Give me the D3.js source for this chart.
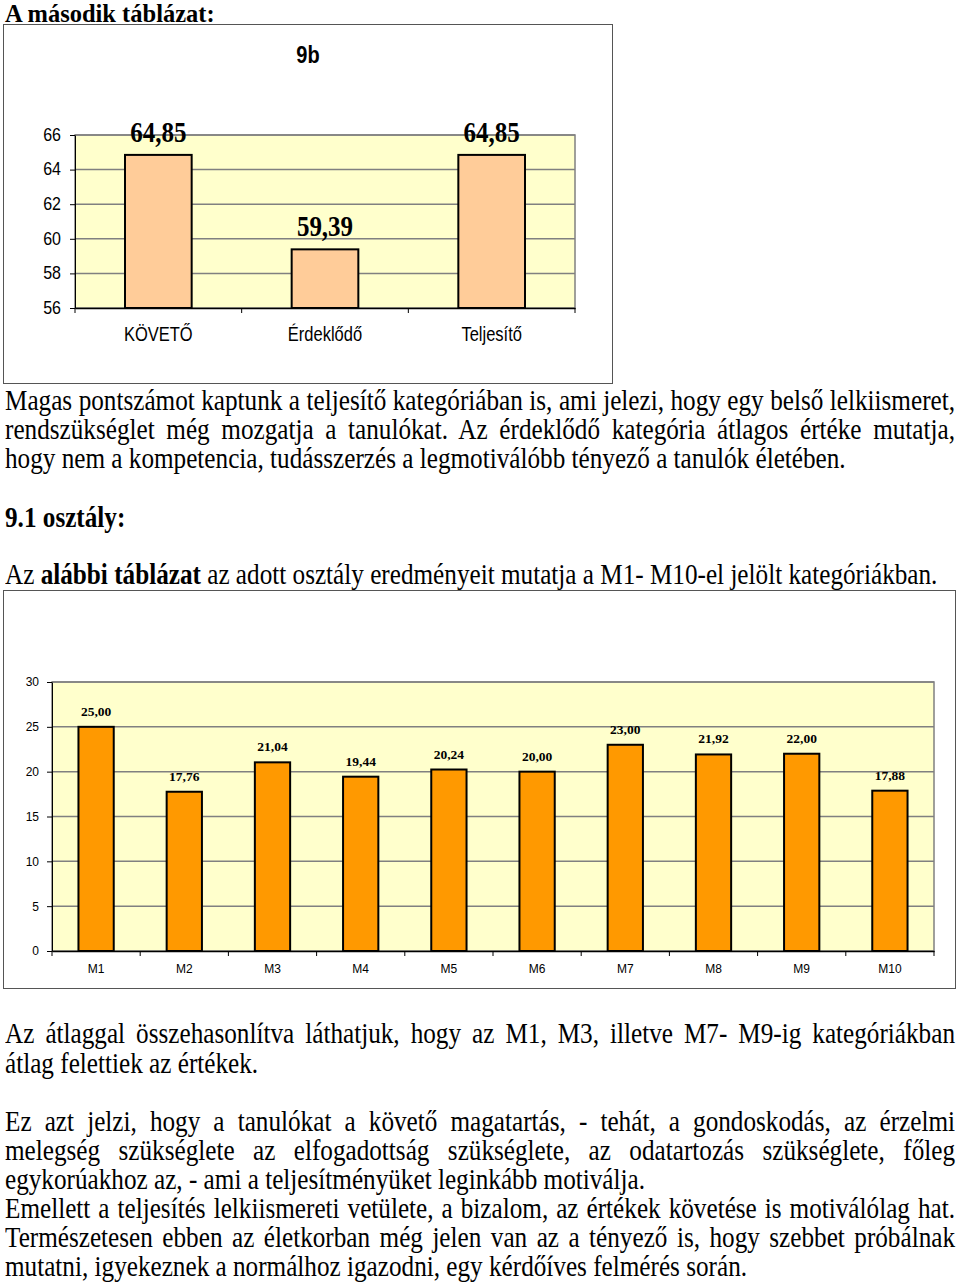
<!DOCTYPE html>
<html>
<head>
<meta charset="utf-8">
<script src="https://cdn.jsdelivr.net/npm/d3@7"></script>
<style>
  body { margin: 0; background: #fff; }
  #page { position: relative; width: 960px; height: 1283px; overflow: hidden; }
  svg { position: absolute; left: 0; top: 0; }
  .ln { position: absolute; left: 5px; width: 950px; height: 23px; line-height: 23px;
        font-family: "Liberation Serif", "Times New Roman", serif; font-size: 25.2px; color: #000;
        white-space: nowrap; transform: scaleY(1.19); transform-origin: 50% 50%; }
  .just { text-align: justify; text-align-last: justify; white-space: normal; }
</style>
</head>
<body>
<div id="page"></div>
<script>
// first chart (9b)
const topCats = ["KÖVETŐ", "Érdeklődő", "Teljesítő"];
const topVals = [64.85, 59.39, 64.85];
const topTicks = [56, 58, 60, 62, 64, 66];

// second chart (9.1 osztály)
const mCats = ["M1", "M2", "M3", "M4", "M5", "M6", "M7", "M8", "M9", "M10"];
const mVals = [25.00, 17.76, 21.04, 19.44, 20.24, 20.00, 23.00, 21.92, 22.00, 17.88];
const mTicks = [0, 5, 10, 15, 20, 25, 30];

// text lines: [text, top, justified]
const textLines = [
  ["Magas pontszámot kaptunk a teljesítő kategóriában is, ami jelezi, hogy egy belső lelkiismeret,", 388, true],
  ["rendszükséglet még mozgatja a tanulókat. Az érdeklődő kategória átlagos értéke mutatja,", 417, true],
  ["hogy nem a kompetencia, tudásszerzés a legmotiválóbb tényező a tanulók életében.", 446, false],
  ["<b>9.1 osztály:</b>", 505, false],
  ["Az <b>alábbi táblázat</b> az adott osztály eredményeit mutatja a M1- M10-el jelölt kategóriákban.", 562, false],
  ["Az átlaggal összehasonlítva láthatjuk, hogy az M1, M3, illetve M7- M9-ig kategóriákban", 1021, true],
  ["átlag felettiek az értékek.", 1051, false],
  ["Ez azt jelzi, hogy a tanulókat a követő magatartás, - tehát, a gondoskodás, az érzelmi", 1109, true],
  ["melegség szükséglete az elfogadottság szükséglete, az odatartozás szükséglete, főleg", 1138, true],
  ["egykorúakhoz az, - ami a teljesítményüket leginkább motiválja.", 1167, false],
  ["Emellett a teljesítés lelkiismereti vetülete, a bizalom, az értékek követése is motiválólag hat.", 1196, true],
  ["Természetesen ebben az életkorban még jelen van az a tényező is, hogy szebbet próbálnak", 1225, true],
  ["mutatni, igyekeznek a normálhoz igazodni, egy kérdőíves felmérés során.", 1254, false]
];

const SY = 1.19; // the source picture is stretched vertically
const serif = "Liberation Serif, Times New Roman, serif";
const sans = "Liberation Sans, Arial, sans-serif";

const page = d3.select("#page");
const fmt = (v) => v.toFixed(2).replace(".", ",");

page.selectAll("div.ln")
  .data(textLines)
  .join("div")
  .attr("class", (d) => (d[2] ? "ln just" : "ln"))
  .style("top", (d) => d[1] + "px")
  .html((d) => d[0]);

const svg = page.append("svg").attr("width", 960).attr("height", 1283);

// text placed at x,y and stretched vertically around its baseline
const stretch = (x, y, s = SY) => `translate(${x},${y}) scale(1,${s})`;

// heading
svg.append("text")
  .attr("transform", stretch(5, 21.5, 1))
  .attr("font-family", serif)
  .attr("font-size", 24.5).attr("font-weight", "bold")
  .text("A második táblázat:");

// ---------- chart 1 ----------
svg.append("rect")
  .attr("x", 3.5).attr("y", 24.5).attr("width", 609).attr("height", 359)
  .attr("fill", "#fff").attr("stroke", "#555").attr("stroke-width", 1);

svg.append("text")
  .attr("transform", stretch(308, 63))
  .attr("text-anchor", "middle")
  .attr("font-family", sans)
  .attr("font-size", 20).attr("font-weight", "bold")
  .text("9b");

const x1 = d3.scaleBand().domain(topCats).range([75, 575]).paddingInner(0.6).paddingOuter(0.3);
const y1 = d3.scaleLinear().domain([56, 66]).range([308, 135]);

const g1 = svg.append("g");
g1.append("rect")
  .attr("x", 75).attr("y", y1(66)).attr("width", 500).attr("height", y1(56) - y1(66))
  .attr("fill", "#FFFFCC").attr("stroke", "#808080").attr("stroke-width", 1.5);

g1.selectAll("line.grid")
  .data(topTicks.slice(1))
  .join("line")
  .attr("x1", 75).attr("x2", 575)
  .attr("y1", (d) => y1(d)).attr("y2", (d) => y1(d))
  .attr("stroke", "#808080").attr("stroke-width", 1.5);

const ax1y = g1.append("g")
  .attr("transform", "translate(75,0)")
  .call(d3.axisLeft(y1).tickValues(topTicks).tickSize(5).tickSizeOuter(0).tickPadding(9));
ax1y.select(".domain").attr("stroke", "#000");
ax1y.selectAll("text")
  .attr("font-family", sans).attr("font-size", 16).attr("fill", "#000")
  .attr("dy", "0.28em").attr("transform", `scale(1,${SY})`);

const ax1x = g1.append("g")
  .attr("transform", `translate(0,${y1(56)})`)
  .call(d3.axisBottom(x1).tickSize(0).tickPadding(16));
ax1x.select(".domain").attr("stroke", "#000").attr("stroke-width", 1.5);
ax1x.selectAll("text")
  .attr("font-family", sans).attr("font-size", 16.5).attr("fill", "#000")
  .attr("transform", `scale(1,${SY})`);
g1.selectAll("line.sep")
  .data(d3.range(topCats.length + 1))
  .join("line")
  .attr("x1", (i) => 75 + i * x1.step()).attr("x2", (i) => 75 + i * x1.step())
  .attr("y1", y1(56)).attr("y2", y1(56) + 5)
  .attr("stroke", "#000");

g1.selectAll("rect.bar")
  .data(topVals)
  .join("rect")
  .attr("x", (d, i) => x1(topCats[i]))
  .attr("y", (d) => y1(d))
  .attr("width", x1.bandwidth())
  .attr("height", (d) => y1(56) - y1(d))
  .attr("fill", "#FFCC99").attr("stroke", "#000").attr("stroke-width", 2);

g1.selectAll("text.val")
  .data(topVals)
  .join("text")
  .attr("transform", (d, i) => stretch(x1(topCats[i]) + x1.bandwidth() / 2, y1(d) - 13))
  .attr("text-anchor", "middle")
  .attr("font-family", serif)
  .attr("font-size", 25).attr("font-weight", "bold")
  .text(fmt);

// ---------- chart 2 ----------
svg.append("rect")
  .attr("x", 3.5).attr("y", 590.5).attr("width", 952).attr("height", 398)
  .attr("fill", "#fff").attr("stroke", "#555").attr("stroke-width", 1);

const x2 = d3.scaleBand().domain(mCats).range([52, 934]).paddingInner(0.6).paddingOuter(0.3);
const y2 = d3.scaleLinear().domain([0, 30]).range([951, 682]);

const g2 = svg.append("g");
g2.append("rect")
  .attr("x", 52).attr("y", y2(30)).attr("width", 934 - 52).attr("height", y2(0) - y2(30))
  .attr("fill", "#FFFFCC").attr("stroke", "#808080").attr("stroke-width", 1.5);

g2.selectAll("line.grid")
  .data(mTicks.slice(1))
  .join("line")
  .attr("x1", 52).attr("x2", 934)
  .attr("y1", (d) => y2(d)).attr("y2", (d) => y2(d))
  .attr("stroke", "#808080").attr("stroke-width", 1.5);

const ax2y = g2.append("g")
  .attr("transform", "translate(52,0)")
  .call(d3.axisLeft(y2).tickValues(mTicks).tickSize(5).tickSizeOuter(0).tickPadding(8));
ax2y.select(".domain").attr("stroke", "#000");
ax2y.selectAll("text")
  .attr("font-family", sans).attr("font-size", 12).attr("fill", "#000");

const ax2x = g2.append("g")
  .attr("transform", `translate(0,${y2(0)})`)
  .call(d3.axisBottom(x2).tickSize(0).tickPadding(13));
ax2x.select(".domain").attr("stroke", "#000").attr("stroke-width", 1.5);
ax2x.selectAll("text")
  .attr("font-family", sans).attr("font-size", 12).attr("fill", "#000");
g2.selectAll("line.sep")
  .data(d3.range(mCats.length + 1))
  .join("line")
  .attr("x1", (i) => 52 + i * x2.step()).attr("x2", (i) => 52 + i * x2.step())
  .attr("y1", y2(0)).attr("y2", y2(0) + 5)
  .attr("stroke", "#000");

g2.selectAll("rect.bar")
  .data(mVals)
  .join("rect")
  .attr("x", (d, i) => x2(mCats[i]))
  .attr("y", (d) => y2(d))
  .attr("width", x2.bandwidth())
  .attr("height", (d) => y2(0) - y2(d))
  .attr("fill", "#FF9900").attr("stroke", "#000").attr("stroke-width", 2);

g2.selectAll("text.val")
  .data(mVals)
  .join("text")
  .attr("x", (d, i) => x2(mCats[i]) + x2.bandwidth() / 2)
  .attr("y", (d) => y2(d) - 11)
  .attr("text-anchor", "middle")
  .attr("font-family", serif)
  .attr("font-size", 13.5).attr("font-weight", "bold")
  .text(fmt);
</script>
</body>
</html>
